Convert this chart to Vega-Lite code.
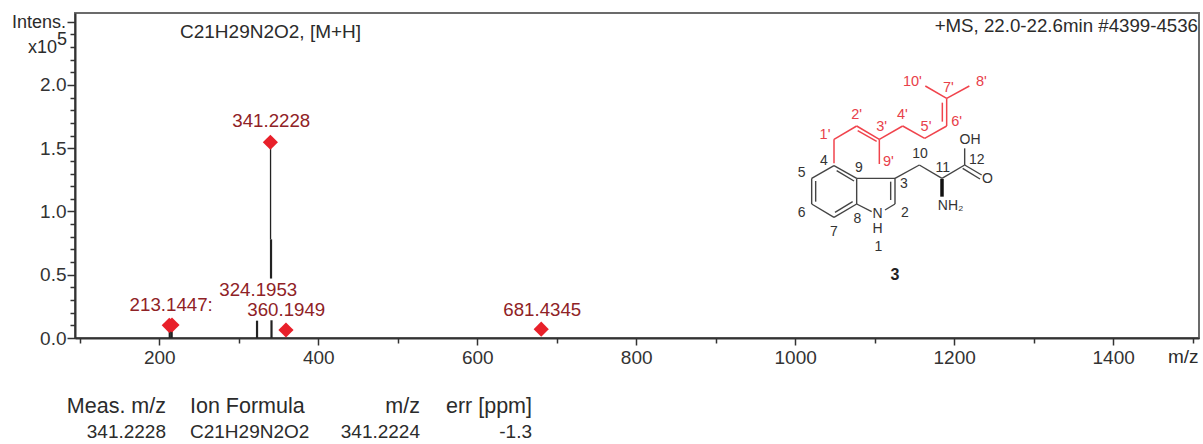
{
"$schema":"https://vega.github.io/schema/vega-lite/v6.json",
"width":1124,"height":325,
"autosize":{"type":"none"},
"padding":{"left":75,"top":13,"right":4,"bottom":106},
"background":"white",
"config":{"view":{"stroke":"#6b6b6b","strokeWidth":2},"text":{"font":"Liberation Sans"},"axis":{"grid":false,"title":null,"labelFont":"Liberation Sans","labelFontSize":19,"labelColor":"#333333","domainColor":"#333333","tickColor":"#333333","domainWidth":2,"tickWidth":1.5}},
"resolve":{"scale":{"x":"independent","y":"independent"},"axis":{"x":"independent","y":"independent"}},
"datasets":{
"thin":[{"mz":340,"from":0.78,"to":1.55}],
"thick":[{"mz":341.2,"from":0,"to":0.14},{"mz":340.6,"from":0.47,"to":0.78},{"mz":213.2,"from":0,"to":0.09},{"mz":215.6,"from":0,"to":0.09},{"mz":323,"from":0,"to":0.137}],
"peaks":[{"mz":339.8,"i":1.547},{"mz":212.6,"i":0.1},{"mz":216,"i":0.103},{"mz":359.4,"i":0.063},{"mz":680.5,"i":0.07}],
"peakLabels":[{"mz":340.9,"i":1.715,"t":"341.2228"},{"mz":215,"i":0.26,"t":"213.1447:"},{"mz":324.5,"i":0.38,"t":"324.1953"},{"mz":359.8,"i":0.22,"t":"360.1949"},{"mz":681.8,"i":0.22,"t":"681.4345"}],
"red":[{"a":162,"b":490,"c":162,"d":418},{"a":162,"b":418,"c":230,"d":378},{"a":230,"b":378,"c":298,"d":418},{"a":233,"b":392,"c":290,"d":424},{"a":298,"b":418,"c":298,"d":492},{"a":298,"b":418,"c":368,"d":378},{"a":368,"b":378,"c":434,"d":415},{"a":434,"b":415,"c":500,"d":378},{"a":500,"b":378,"c":500,"d":295},{"a":487,"b":365,"c":487,"d":308},{"a":500,"b":295,"c":436,"d":258},{"a":500,"b":295,"c":568,"d":258}],
"black":[{"a":162,"b":497,"c":95,"d":535},{"a":95,"b":535,"c":95,"d":612},{"a":95,"b":612,"c":162,"d":652},{"a":162,"b":652,"c":230,"d":612},{"a":230,"b":612,"c":230,"d":535},{"a":230,"b":535,"c":162,"d":497},{"a":107,"b":543,"c":107,"d":605},{"a":165,"b":637,"c":218,"d":605},{"a":170,"b":512,"c":222,"d":543},{"a":230,"b":535,"c":345,"d":535},{"a":345,"b":535,"c":345,"d":612},{"a":332,"b":545,"c":332,"d":600},{"a":345,"b":612,"c":315,"d":630},{"a":230,"b":612,"c":275,"d":635},{"a":345,"b":535,"c":418,"d":495},{"a":418,"b":495,"c":486,"d":535},{"a":486,"b":535,"c":554,"d":495},{"a":554,"b":495,"c":554,"d":445},{"a":554,"b":495,"c":605,"d":525},{"a":548,"b":505,"c":600,"d":537}],
"redText":[{"a":397,"b":245,"t":"10'"},{"a":505,"b":265,"t":"7'"},{"a":604,"b":245,"t":"8'"},{"a":230,"b":345,"t":"2'"},{"a":367,"b":345,"t":"4'"},{"a":305,"b":380,"t":"3'"},{"a":438,"b":380,"t":"5'"},{"a":530,"b":367,"t":"6'"},{"a":135,"b":405,"t":"1'"},{"a":325,"b":485,"t":"9'"}],
"blackText":[{"a":132,"b":482,"t":"4"},{"a":237,"b":505,"t":"9"},{"a":65,"b":520,"t":"5"},{"a":372,"b":553,"t":"3"},{"a":420,"b":463,"t":"10"},{"a":488,"b":505,"t":"11"},{"a":590,"b":480,"t":"12"},{"a":570,"b":420,"t":"OH"},{"a":622,"b":538,"t":"O"},{"a":512,"b":617,"t":"NH₂"},{"a":293,"b":642,"t":"N"},{"a":293,"b":687,"t":"H"},{"a":375,"b":640,"t":"2"},{"a":65,"b":640,"t":"6"},{"a":232,"b":658,"t":"8"},{"a":162,"b":695,"t":"7"},{"a":295,"b":740,"t":"1"}],
"notesSmall":[{"sx":12,"sy":23,"t":"Intens."},{"sx":28,"sy":48,"t":"x10"},{"sx":57,"sy":40,"t":"5"}],
"notesLeft":[{"sx":180,"sy":32,"t":"C21H29N2O2, [M+H]"},{"sx":190,"sy":432,"t":"C21H29N2O2"},{"sx":1168,"sy":357,"t":"m/z"}],
"notesRight":[{"sx":166,"sy":432,"t":"341.2228"},{"sx":420,"sy":432,"t":"341.2224"},{"sx":532,"sy":432,"t":"-1.3"}],
"notesTop":[{"sx":1198,"sy":26,"t":"+MS, 22.0-22.6min #4399-4536"}],
"headLeft":[{"sx":190,"sy":407,"t":"Ion Formula"}],
"headRight":[{"sx":166,"sy":407,"t":"Meas. m/z"},{"sx":420,"sy":407,"t":"m/z"},{"sx":532,"sy":407,"t":"err [ppm]"}]
},
"layer":[
{"data":{"name":"thin"},"mark":{"type":"rule","color":"#222222","strokeWidth":1.3},
 "encoding":{"x":{"field":"mz","type":"quantitative","scale":{"domain":[94,1508],"nice":false,"zero":false},
   "axis":{"orient":"bottom","values":[200,400,600,800,1000,1200,1400],"format":"d","tickSize":7,"labelPadding":3}},
  "y":{"field":"from","type":"quantitative","scale":{"domain":[0,2.569],"nice":false},
   "axis":{"orient":"left","values":[0,0.5,1,1.5,2,2.5],"labelExpr":"datum.value>2.1?'':format(datum.value,'.1f')","tickSize":8,"labelPadding":1}},
  "y2":{"field":"to"}}},
{"data":{"name":"thick"},"mark":{"type":"rule","color":"#222222","strokeWidth":2.2},
 "encoding":{"x":{"field":"mz","type":"quantitative","scale":{"domain":[94,1508],"nice":false,"zero":false},
   "axis":{"orient":"bottom","values":[100,300,500,700,900,1100,1300,1500],"labels":false,"domain":false,"tickSize":5}},
  "y":{"field":"from","type":"quantitative","scale":{"domain":[0,2.569],"nice":false},
   "axis":{"orient":"left","values":[0.1,0.2,0.3,0.4,0.6,0.7,0.8,0.9,1.1,1.2,1.3,1.4,1.6,1.7,1.8,1.9,2.1,2.2,2.3,2.4],"labels":false,"domain":false,"tickSize":5}},
  "y2":{"field":"to"}}},
{"data":{"name":"peaks"},"mark":{"type":"point","shape":"diamond","filled":true,"opacity":1,"color":"#e8202a","size":230},
 "encoding":{"x":{"field":"mz","type":"quantitative","scale":{"domain":[94,1508],"nice":false,"zero":false},"axis":null},
  "y":{"field":"i","type":"quantitative","scale":{"domain":[0,2.569],"nice":false},"axis":null}}},
{"data":{"name":"peakLabels"},"mark":{"type":"text","color":"#8f2226","fontSize":18.7,"baseline":"middle"},
 "encoding":{"x":{"field":"mz","type":"quantitative","scale":{"domain":[94,1508],"nice":false,"zero":false},"axis":null},
  "y":{"field":"i","type":"quantitative","scale":{"domain":[0,2.569],"nice":false},"axis":null},"text":{"field":"t"}}},
{"data":{"name":"red"},"mark":{"type":"rule","color":"#f0434c","strokeWidth":1.5},
 "encoding":{"x":{"field":"a","type":"quantitative","scale":{"domain":[-2115,1257],"nice":false,"zero":false},"axis":null},"x2":{"field":"c"},
  "y":{"field":"b","type":"quantitative","scale":{"domain":[1014,39],"nice":false,"zero":false},"axis":null},"y2":{"field":"d"}}},
{"data":{"name":"black"},"mark":{"type":"rule","color":"#444444","strokeWidth":1.4},
 "encoding":{"x":{"field":"a","type":"quantitative","scale":{"domain":[-2115,1257],"nice":false,"zero":false},"axis":null},"x2":{"field":"c"},
  "y":{"field":"b","type":"quantitative","scale":{"domain":[1014,39],"nice":false,"zero":false},"axis":null},"y2":{"field":"d"}}},
{"data":{"values":[{"a":486,"b":537,"c":486,"d":590}]},"mark":{"type":"rule","color":"#111111","strokeWidth":3.5},
 "encoding":{"x":{"field":"a","type":"quantitative","scale":{"domain":[-2115,1257],"nice":false,"zero":false},"axis":null},"x2":{"field":"c"},
  "y":{"field":"b","type":"quantitative","scale":{"domain":[1014,39],"nice":false,"zero":false},"axis":null},"y2":{"field":"d"}}},
{"data":{"name":"redText"},"mark":{"type":"text","color":"#e8404a","fontSize":14.5,"baseline":"middle"},
 "encoding":{"x":{"field":"a","type":"quantitative","scale":{"domain":[-2115,1257],"nice":false,"zero":false},"axis":null},
  "y":{"field":"b","type":"quantitative","scale":{"domain":[1014,39],"nice":false,"zero":false},"axis":null},"text":{"field":"t"}}},
{"data":{"name":"blackText"},"mark":{"type":"text","color":"#333333","fontSize":14,"baseline":"middle"},
 "encoding":{"x":{"field":"a","type":"quantitative","scale":{"domain":[-2115,1257],"nice":false,"zero":false},"axis":null},
  "y":{"field":"b","type":"quantitative","scale":{"domain":[1014,39],"nice":false,"zero":false},"axis":null},"text":{"field":"t"}}},
{"data":{"values":[{"a":345,"b":825,"t":"3"}]},"mark":{"type":"text","color":"#222222","fontSize":16,"fontWeight":"bold","baseline":"middle"},
 "encoding":{"x":{"field":"a","type":"quantitative","scale":{"domain":[-2115,1257],"nice":false,"zero":false},"axis":null},
  "y":{"field":"b","type":"quantitative","scale":{"domain":[1014,39],"nice":false,"zero":false},"axis":null},"text":{"field":"t"}}},
{"data":{"name":"notesSmall"},"mark":{"type":"text","color":"#2b2b2b","fontSize":18,"align":"left","baseline":"middle"},
 "encoding":{"x":{"field":"sx","type":"quantitative","scale":{"domain":[75,1199],"nice":false,"zero":false},"axis":null},
  "y":{"field":"sy","type":"quantitative","scale":{"domain":[338,13],"nice":false,"zero":false},"axis":null},"text":{"field":"t"}}},
{"data":{"name":"notesLeft"},"mark":{"type":"text","color":"#2b2b2b","fontSize":19,"align":"left","baseline":"middle"},
 "encoding":{"x":{"field":"sx","type":"quantitative","scale":{"domain":[75,1199],"nice":false,"zero":false},"axis":null},
  "y":{"field":"sy","type":"quantitative","scale":{"domain":[338,13],"nice":false,"zero":false},"axis":null},"text":{"field":"t"}}},
{"data":{"name":"notesRight"},"mark":{"type":"text","color":"#2b2b2b","fontSize":19,"align":"right","baseline":"middle"},
 "encoding":{"x":{"field":"sx","type":"quantitative","scale":{"domain":[75,1199],"nice":false,"zero":false},"axis":null},
  "y":{"field":"sy","type":"quantitative","scale":{"domain":[338,13],"nice":false,"zero":false},"axis":null},"text":{"field":"t"}}},
{"data":{"name":"notesTop"},"mark":{"type":"text","color":"#2b2b2b","fontSize":18.7,"align":"right","baseline":"middle"},
 "encoding":{"x":{"field":"sx","type":"quantitative","scale":{"domain":[75,1199],"nice":false,"zero":false},"axis":null},
  "y":{"field":"sy","type":"quantitative","scale":{"domain":[338,13],"nice":false,"zero":false},"axis":null},"text":{"field":"t"}}},
{"data":{"name":"headLeft"},"mark":{"type":"text","color":"#2b2b2b","fontSize":21.5,"align":"left","baseline":"middle"},
 "encoding":{"x":{"field":"sx","type":"quantitative","scale":{"domain":[75,1199],"nice":false,"zero":false},"axis":null},
  "y":{"field":"sy","type":"quantitative","scale":{"domain":[338,13],"nice":false,"zero":false},"axis":null},"text":{"field":"t"}}},
{"data":{"name":"headRight"},"mark":{"type":"text","color":"#2b2b2b","fontSize":21.5,"align":"right","baseline":"middle"},
 "encoding":{"x":{"field":"sx","type":"quantitative","scale":{"domain":[75,1199],"nice":false,"zero":false},"axis":null},
  "y":{"field":"sy","type":"quantitative","scale":{"domain":[338,13],"nice":false,"zero":false},"axis":null},"text":{"field":"t"}}}
]
}
